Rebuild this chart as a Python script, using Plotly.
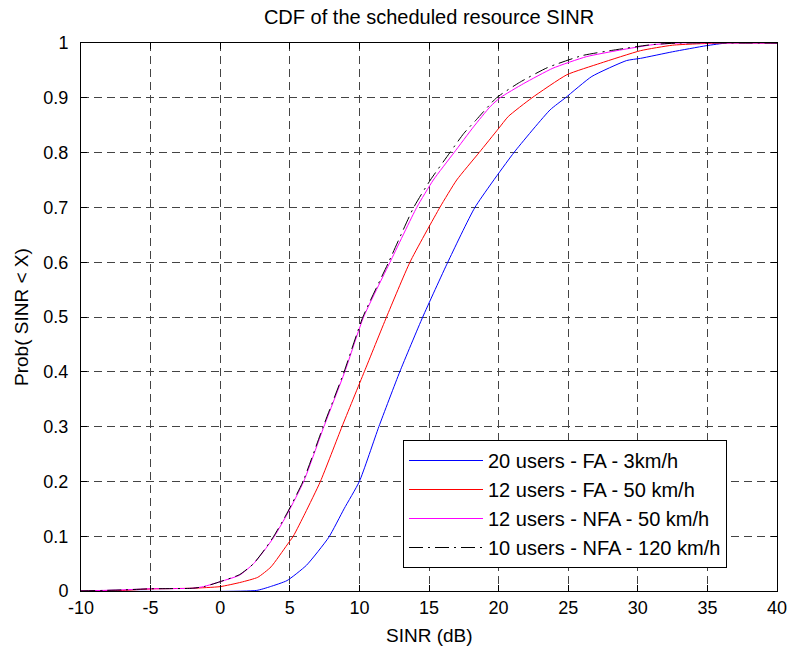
import plotly.graph_objects as go

# ---- data ----
blue_x = [-10, 2.6, 3.6, 4.8, 6.2, 7.8, 8.9, 10.0, 11.4, 12.9, 14.55, 16.35, 18.3, 21.1, 23.7, 24.8, 26.7, 29.2, 30.2, 32.5, 34.9, 36.4, 40]
blue_y = [0.0, 0.001, 0.008, 0.019, 0.047, 0.098, 0.15, 0.2, 0.3, 0.4, 0.5, 0.6, 0.7, 0.8, 0.878, 0.9, 0.939, 0.968, 0.972, 0.984, 0.995, 1.0, 1.0]

red_x = [-10, -7, -4.8, -2, 0, 1.5, 2.7, 3.65, 4.8, 5.25, 6.1, 7.2, 8.75, 10.35, 11.95, 13.63, 15.78, 16.99, 18.6, 20.0, 20.7, 22.4, 24.9, 27.3, 30.2, 32.5, 36, 40]
red_y = [0, 0.001, 0.004, 0.005, 0.008, 0.016, 0.025, 0.044, 0.084, 0.1, 0.142, 0.2, 0.3, 0.4, 0.5, 0.6, 0.7, 0.75, 0.8, 0.844, 0.866, 0.9, 0.942, 0.963, 0.986, 0.996, 1.0, 1.0]

mag_x = [-10, -7.1, -5, -2, -1.2, 0, 1.4, 2.4, 3.2, 3.9, 4.85, 6.0, 7.45, 8.95, 10.3, 12.2, 14.12, 15.31, 16.8, 18.2, 19.4, 20.1, 21.8, 23.9, 26.3, 28.7, 31.1, 33, 40]
mag_y = [0, 0.002, 0.004, 0.005, 0.008, 0.017, 0.029, 0.05, 0.075, 0.1, 0.142, 0.2, 0.3, 0.4, 0.5, 0.6, 0.7, 0.75, 0.8, 0.847, 0.884, 0.9, 0.926, 0.954, 0.975, 0.987, 0.997, 1.0, 1.0]

blk_x = [-10, -7, -5, -2, -1.15, 0, 1.4, 2.4, 3.2, 3.85, 4.8, 5.95, 7.4, 8.9, 10.25, 12.1, 13.9, 15.1, 16.5, 17.5, 18.4, 19.85, 21.5, 23.5, 26.0, 28.5, 31, 33, 40]
blk_y = [0, 0.002, 0.004, 0.005, 0.008, 0.017, 0.03, 0.05, 0.076, 0.1, 0.142, 0.2, 0.3, 0.4, 0.5, 0.6, 0.7, 0.75, 0.8, 0.835, 0.86, 0.9, 0.928, 0.955, 0.977, 0.988, 0.997, 1.0, 1.0]

names = ["20 users - FA - 3km/h", "12 users - FA - 50 km/h",
         "12 users - NFA - 50 km/h", "10 users - NFA - 120 km/h"]

x_ticks = [-10, -5, 0, 5, 10, 15, 20, 25, 30, 35, 40]
x_labels = ["-10", "-5", "0", "5", "10", "15", "20", "25", "30", "35", "40"]
y_ticks = [0, 0.1, 0.2, 0.3, 0.4, 0.5, 0.6, 0.7, 0.8, 0.9, 1]
y_labels = ["0", "0.1", "0.2", "0.3", "0.4", "0.5", "0.6", "0.7", "0.8", "0.9", "1"]

FONT = "Liberation Sans, Arial, Helvetica, sans-serif"

fig = go.Figure()
series = [
    (blue_x, blue_y, "#0000FF", "solid"),
    (red_x, red_y, "#FF0000", "solid"),
    (mag_x, mag_y, "#FF00FF", "solid"),
    (blk_x, blk_y, "#000000", "14px,5px,2px,5px"),
]
for i, (xs, ys, col, dash) in enumerate(series):
    fig.add_trace(go.Scatter(
        x=xs, y=ys, mode="lines", name=names[i], legendgroup=f"g{i}",
        line=dict(color=col, width=1, dash=dash, shape="spline", smoothing=0.5),
    ))

W, H = 788, 648
L, R, T, B = 81, 11, 43, 57
pw, ph = W - L - R, H - T - B

axis_common = dict(
    showline=True, linecolor="black", linewidth=1, mirror="ticks",
    ticks="inside", ticklen=6, tickcolor="black", tickwidth=1,
    showgrid=True, gridcolor="#444444", gridwidth=1, griddash="8px,5px",
    zeroline=False, tickfont=dict(family=FONT, size=18, color="black"),
)

fig.update_layout(
    width=W, height=H,
    margin=dict(l=L, r=R, t=T, b=B, autoexpand=False),
    paper_bgcolor="white", plot_bgcolor="white",
    font=dict(family=FONT, color="black"),
    title=dict(text="CDF of the scheduled resource SINR", x=0.5, xref="paper",
               y=1 - 17 / H, yref="container", xanchor="center", yanchor="middle",
               font=dict(family=FONT, size=20, color="black")),
    xaxis=dict(range=[-10, 40], tickvals=x_ticks, ticktext=x_labels, **axis_common),
    yaxis=dict(range=[0, 1], tickvals=y_ticks, ticktext=y_labels,
               ticklabelstandoff=8, **axis_common),
    legend=dict(x=(403 - L) / pw, y=(591 - 440) / ph, xanchor="left", yanchor="top",
                bgcolor="white", bordercolor="black", borderwidth=1,
                font=dict(family=FONT, size=20, color="black"),
                tracegroupgap=0, itemwidth=74),
    showlegend=True,
    annotations=[
        dict(text="SINR (dB)", xref="paper", yref="paper", x=0.5, y=(591 - 635) / ph,
             xanchor="center", yanchor="middle", showarrow=False,
             font=dict(family=FONT, size=19, color="black")),
        dict(text="Prob( SINR < X)", xref="paper", yref="paper", x=(21 - L) / pw, y=0.5,
             xanchor="center", yanchor="middle", showarrow=False, textangle=-90,
             font=dict(family=FONT, size=19, color="black")),
    ],
)

fig.write_html("out.html")
